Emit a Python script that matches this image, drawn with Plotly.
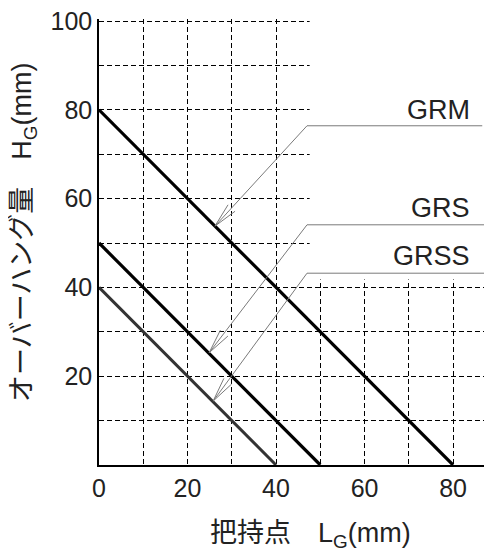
import math
import plotly.graph_objects as go

# ---- data ----
models = ["GRM", "GRS", "GRSS"]
hg_at_lg0 = [80, 50, 40]        # overhang H_G (mm) at L_G = 0
lg_at_hg0 = [80, 50, 40]        # grip point L_G (mm) at H_G = 0

x_tick_vals = [0, 20, 40, 60, 80]
x_tick_text = ["0", "20", "40", "60", "80"]
y_tick_vals = [20, 40, 60, 80, 100]
y_tick_text = ["20", "40", "60", "80", "100"]
grid_step = 10

# leader lines (arrow tip on series line, elbow, end of horizontal segment)
leader_tip_x = [26.2, 24.9, 25.8]
leader_tip_y = [53.8, 25.3, 14.4]
leader_elbow_x = [47.0, 47.0, 47.0]
leader_elbow_y = [76.4, 54.1, 43.2]
leader_end_x = [86.6, 87.0, 88.8]
label_x = [84.3, 84.3, 84.3]
label_y = [80.0, 57.9, 47.1]

x_title = "把持点　L<sub>G</sub>(mm)"
y_title = "オーバーハング量　H<sub>G</sub>(mm)"

# ---- styling ----
PAGE_OFF = 8                       # default body margin of the html page
W, H = 492 - PAGE_OFF, 558 - PAGE_OFF
PLOT_L, PLOT_R, PLOT_T, PLOT_B = 99, 492, 19, 465   # plot area in window pixels
Y100_PX = 21                                        # pixel row of y = 100
ML, MR = PLOT_L - PAGE_OFF, 0
MT, MB = PLOT_T - PAGE_OFF, 558 - PLOT_B
X_RANGE = [0, 88.8]
sy = (PLOT_B - Y100_PX) / 100.0
Y_RANGE = [0, 100 + (Y100_PX - PLOT_T) / sy]
FONT = "Arial, 'Liberation Sans', 'Noto Sans CJK JP', sans-serif"
TXT = "#222222"
series_colors = ["#000000", "#000000", "#333333"]
series_widths = [3.2, 3.2, 3.0]
LEADER = "#7a7a7a"

pw, ph = PLOT_R - PLOT_L, PLOT_B - PLOT_T
sx = pw / (X_RANGE[1] - X_RANGE[0])

fig = go.Figure()

for name, h0, l0, c, w in zip(models, hg_at_lg0, lg_at_hg0, series_colors, series_widths):
    fig.add_trace(go.Scatter(x=[0, l0], y=[h0, 0], mode="lines", name=name,
                             line=dict(color=c, width=w), hoverinfo="skip",
                             showlegend=False))

ARM = 25.0
HALF = math.radians(11)
for i in range(len(models)):
    tx, ty = leader_tip_x[i], leader_tip_y[i]
    ex, ey = leader_elbow_x[i], leader_elbow_y[i]
    fig.add_trace(go.Scatter(x=[leader_end_x[i], ex, tx], y=[ey, ey, ty], mode="lines",
                             line=dict(color=LEADER, width=1), hoverinfo="skip",
                             showlegend=False))
    # arrowhead (open V) computed in pixel space
    dx, dy = (ex - tx) * sx, (ey - ty) * sy
    ang = math.atan2(dy, dx)
    ax_pts, ay_pts = [], []
    for s in (1, -1):
        a = ang + s * HALF
        ax_pts.append(tx + ARM * math.cos(a) / sx)
        ay_pts.append(ty + ARM * math.sin(a) / sy)
    fig.add_trace(go.Scatter(x=[ax_pts[0], tx, ax_pts[1]], y=[ay_pts[0], ty, ay_pts[1]],
                             mode="lines", line=dict(color=LEADER, width=1),
                             hoverinfo="skip", showlegend=False))
    fig.add_annotation(x=label_x[i], y=label_y[i], xref="x", yref="y", text=models[i],
                       showarrow=False, xanchor="right", yanchor="middle",
                       font=dict(family=FONT, size=27, color=TXT))

# blank region in the upper right (no grid)
fig.add_shape(type="rect", xref="x", yref="y", x0=47.6, x1=90, y0=41.8, y1=102,
              fillcolor="white", line=dict(width=0), layer="between")

grid_style = dict(showgrid=True, gridcolor="black", gridwidth=1, griddash="5px,3px")
axis_common = dict(showline=True, linecolor="black", linewidth=1.5, zeroline=False,
                   ticks="", tickfont=dict(family=FONT, size=25, color=TXT),
                   fixedrange=True, tickmode="array", automargin=False,
                   ticklabeloverflow="allow",
                   minor=dict(tickmode="linear", tick0=0, dtick=grid_step, ticks="",
                              **grid_style),
                   **grid_style)

fig.update_xaxes(range=X_RANGE, tickvals=x_tick_vals, ticktext=x_tick_text, **axis_common)
fig.update_yaxes(range=Y_RANGE, tickvals=y_tick_vals, ticktext=y_tick_text, **axis_common)

fig.add_annotation(xref="paper", yref="paper", x=(310 - PLOT_L) / pw, y=(PLOT_B - 535) / ph,
                   text=x_title, showarrow=False, xanchor="center", yanchor="middle",
                   font=dict(family=FONT, size=27, color=TXT))
fig.add_annotation(xref="paper", yref="paper", x=(24 - PLOT_L) / pw, y=(PLOT_B - 233) / ph,
                   text=y_title, showarrow=False, xanchor="center", yanchor="middle",
                   textangle=-90, font=dict(family=FONT, size=27, color=TXT))

fig.update_layout(width=W, height=H, margin=dict(l=ML, r=MR, t=MT, b=MB, autoexpand=False),
                  paper_bgcolor="white", plot_bgcolor="white", showlegend=False,
                  font=dict(family=FONT, color=TXT))

fig.write_html("out.html")
